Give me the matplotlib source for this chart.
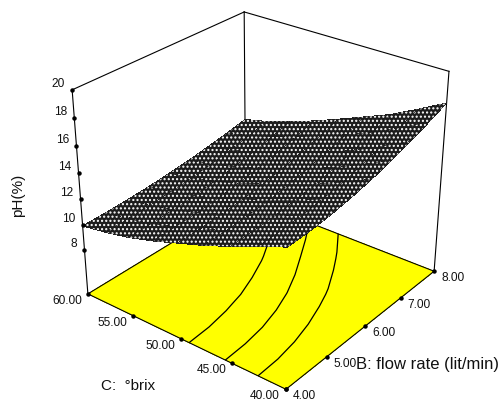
import numpy as np
import matplotlib
matplotlib.use('Agg')
import matplotlib.pyplot as plt
from mpl_toolkits.mplot3d import proj3d

plt.rcParams['font.family'] = ['Liberation Sans', 'DejaVu Sans']
plt.rcParams['hatch.linewidth'] = 1.0
plt.rcParams['hatch.color'] = 'white'

# axis values and tick labels
flow = np.array([4.0, 4.5, 5.0, 5.5, 6.0, 6.5, 7.0, 7.5, 8.0])
brix = np.array([40.0, 42.5, 45.0, 47.5, 50.0, 52.5, 55.0, 57.5, 60.0])
flow_ticks = [4.0, 5.0, 6.0, 7.0, 8.0]
brix_ticks = [40.0, 45.0, 50.0, 55.0, 60.0]
ph_ticks = [8, 10, 12, 14, 16, 18, 20]
contour_levels = [12.0, 13.0, 14.0]
ph_floor = 4.4
ph_top = 20.0
# estimated pH, one row per brix value (40 to 60), one column per flow rate
ph = np.array([
    [14.80, 14.86, 15.02, 15.28, 15.62, 16.04, 16.54, 17.09, 17.70],
    [14.02, 14.06, 14.18, 14.38, 14.66, 15.04, 15.50, 16.02, 16.60],
    [13.20, 13.24, 13.34, 13.52, 13.78, 14.10, 14.50, 15.00, 15.56],
    [12.45, 12.49, 12.59, 12.77, 13.02, 13.34, 13.72, 14.16, 14.72],
    [11.80, 11.84, 11.94, 12.09, 12.32, 12.62, 13.00, 13.42, 13.90],
    [11.15, 11.18, 11.27, 11.42, 11.64, 11.91, 12.25, 12.64, 13.10],
    [10.60, 10.63, 10.71, 10.85, 11.05, 11.30, 11.61, 11.98, 12.40],
    [10.20, 10.22, 10.30, 10.42, 10.59, 10.80, 11.07, 11.39, 11.75],
    [9.90, 9.92, 9.99, 10.09, 10.24, 10.43, 10.67, 10.94, 11.26],
])

fig = plt.figure(figsize=(5, 4.04), dpi=100)
ax = fig.add_axes([0.0981, 0.0098, 0.8349, 1.0332], projection='3d')
ax.set_xlim(4, 8, view_margin=0)
ax.set_ylim(40, 60, view_margin=0)
ax.set_zlim(ph_floor, ph_top, view_margin=0)
ax.set_proj_type('persp', focal_length=0.5783)
ax.view_init(28.7, -141.7)
ax.set_box_aspect((1.005, 1, 0.8966))
ax.set_axis_off()
ax.patch.set_alpha(0)
ax.computed_zorder = False

LW = 0.8
xmin, xmax, ymin, ymax = flow[0], flow[-1], brix[0], brix[-1]

# floor and contours
FBf, FCf = np.meshgrid(flow[[0, -1]], brix[[0, -1]])
ax.plot_surface(FBf, FCf, np.full_like(FBf, ph_floor), color='#ffff00', shade=False, linewidth=0,
                antialiased=False, zorder=1)
FB, FC = np.meshgrid(flow, brix)
ax.contour(FB, FC, ph, levels=contour_levels, zdir='z', offset=ph_floor, colors='k', linewidths=0.9, zorder=2)

# box
for a, b in [((xmin, ymax, ph_floor), (xmin, ymin, ph_floor)), ((xmin, ymin, ph_floor), (xmax, ymin, ph_floor)),
             ((xmax, ymin, ph_floor), (xmax, ymax, ph_floor)), ((xmax, ymax, ph_floor), (xmin, ymax, ph_floor)),
             ((xmin, ymax, ph_floor), (xmin, ymax, ph_top)), ((xmax, ymax, ph_floor), (xmax, ymax, ph_top)),
             ((xmax, ymin, ph_floor), (xmax, ymin, ph_top)), ((xmin, ymax, ph_top), (xmax, ymax, ph_top)),
             ((xmax, ymax, ph_top), (xmax, ymin, ph_top))]:
    ax.plot(*zip(a, b), color='k', lw=LW, zorder=3)

# surface
ax.plot_surface(FB, FC, ph, rstride=1, cstride=1, color='#1c1c1c', shade=False, linewidth=0,
                antialiased=False, hatch='....', zorder=5)

# ticks
ax.plot(np.full(len(ph_ticks), xmin), np.full(len(ph_ticks), ymax), ph_ticks, ls='', marker='o', ms=2.2, color='k', zorder=7)
ax.plot(flow_ticks, np.full(len(flow_ticks), ymin), np.full(len(flow_ticks), ph_floor), ls='', marker='o', ms=2.2, color='k', zorder=7)
ax.plot(np.full(len(brix_ticks), xmin), brix_ticks, np.full(len(brix_ticks), ph_floor), ls='', marker='o', ms=2.2, color='k', zorder=7)

fig.canvas.draw()
M = ax.get_proj()
def label(x, y, z, text, dx, dy, ha):
    X, Y, _ = proj3d.proj_transform(x, y, z, M)
    ax.annotate(text, xy=(X, Y), xytext=(dx * 0.72, dy * 0.72), textcoords='offset points',
                ha=ha, va='center', fontsize=8.6, color='#111111', annotation_clip=False)

for v in ph_ticks:
    label(xmin, ymax, v, f'{v}', -7, 6, 'right')
for v in brix_ticks:
    label(xmin, v, ph_floor, f'{v:.2f}', -6, -7, 'right')
for v in flow_ticks:
    label(v, ymin, ph_floor, f'{v:.2f}', 7, -7, 'left')

fig.text(101 / 500, 1 - 386 / 404, 'C:  °brix', fontsize=11, ha='left', va='center', color='#111111')
fig.text(356 / 500, 1 - 365 / 404, 'B: flow rate (lit/min)', fontsize=12, ha='left', va='center', color='#111111')
fig.text(18 / 500, 1 - 195 / 404, 'pH(%)', fontsize=11, rotation=90, ha='center', va='center', color='#111111')
fig.savefig('out.png', dpi=100)
